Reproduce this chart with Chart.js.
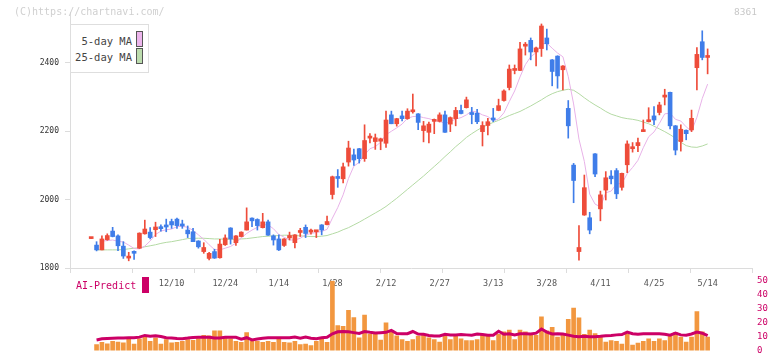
<!DOCTYPE html>
<html>
<head>
<meta charset="utf-8">
<script src="https://cdn.jsdelivr.net/npm/chart.js@4.4.1/dist/chart.umd.min.js"></script>
<style>
  body { margin: 0; background: #fff; width: 772px; height: 361px; overflow: hidden; position: relative;
         font-family: "DejaVu Sans Mono", monospace; }
  canvas { position: absolute; left: 0; }
  #top { top: 0; }
  #bottom { top: 270px; }
  .txt { position: absolute; white-space: nowrap; line-height: 1; }
  .box { position: absolute; }
</style>
</head>
<body>
<canvas id="top" width="772" height="300"></canvas>
<canvas id="bottom" width="772" height="91"></canvas>

<div class="txt" style="left:14px;top:7px;font-size:10px;color:#d0d0d0">(C)https://chartnavi.com/</div>
<div class="txt" style="right:15px;top:7px;font-size:9.5px;color:#c8c8c8">8361</div>

<!-- legend -->
<div class="box" style="left:70px;top:24px;width:77px;height:47px;border:1px solid #dedede;background:#fff"></div>
<div class="txt" style="right:640px;top:36px;font-size:10.5px;color:#444">5-day MA</div>
<div class="box" style="left:136px;top:31px;width:5px;height:14px;border:1px solid #555;background:#ecb5ec"></div>
<div class="txt" style="right:640px;top:52px;font-size:10.5px;color:#444">25-day MA</div>
<div class="box" style="left:136px;top:48px;width:5px;height:14px;border:1px solid #555;background:#bcdcae"></div>

<div class="txt" style="left:76px;top:281px;font-size:10px;color:#cc0066">AI-Predict</div>
<div class="box" style="left:142px;top:277px;width:7px;height:16px;background:#cc0066"></div>

<script>
// ---- data ----
const dateLabels = ["12/10", "12/24", "1/14", "1/28", "2/12", "2/27", "3/13", "3/28", "4/11", "4/25", "5/14"];
const dateIdx = [15, 25, 35, 45, 55, 65, 75, 85, 95, 105, 115];
const priceTicks = [1800, 2000, 2200, 2400];
const aiTicks = [0, 10, 20, 30, 40, 50];

const opens = [
  1886, 1867, 1853, 1883, 1908, 1894, 1864, 1829, 1847, 1858,
  1900, 1905, 1912, 1917, 1926, 1936, 1943, 1928, 1911, 1906,
  1879, 1848, 1828, 1848, 1830, 1868, 1917, 1874, 1892, 1911,
  1946, 1942, 1918, 1935, 1894, 1885, 1866, 1888, 1874, 1904,
  1919, 1905, 1906, 1926, 1927, 2015, 2067, 2061, 2110, 2131,
  2149, 2120, 2180, 2170, 2171, 2165, 2248, 2222, 2245, 2237,
  2257, 2251, 2202, 2197, 2229, 2229, 2248, 2221, 2237, 2261,
  2269, 2251, 2253, 2199, 2217, 2239, 2261, 2290, 2328, 2378,
  2378, 2449, 2466, 2432, 2442, 2473, 2409, 2420, 2380, 2267,
  2101, 1848, 1955, 1947, 2134, 1973, 2028, 2069, 2085, 2036,
  2102, 2149, 2158, 2199, 2228, 2245, 2255, 2300, 2314, 2216,
  2170, 2203, 2204, 2386, 2462, 2416
];
const highs = [
  1888, 1877, 1894, 1900, 1919, 1897, 1877, 1846, 1850, 1903,
  1940, 1918, 1934, 1926, 1943, 1943, 1946, 1940, 1923, 1916,
  1880, 1874, 1846, 1855, 1884, 1897, 1918, 1895, 1906, 1976,
  1947, 1944, 1960, 1940, 1897, 1897, 1886, 1905, 1898, 1916,
  1926, 1914, 1908, 1927, 1952, 2069, 2088, 2107, 2171, 2148,
  2150, 2219, 2193, 2192, 2180, 2259, 2259, 2238, 2259, 2266,
  2309, 2252, 2229, 2227, 2236, 2254, 2259, 2242, 2270, 2277,
  2300, 2270, 2264, 2228, 2238, 2267, 2294, 2321, 2394, 2394,
  2460, 2460, 2473, 2446, 2514, 2499, 2410, 2421, 2392, 2290,
  2106, 1924, 2072, 1963, 2135, 2025, 2082, 2085, 2091, 2078,
  2172, 2167, 2180, 2233, 2269, 2272, 2285, 2323, 2315, 2217,
  2219, 2204, 2262, 2445, 2494, 2441
];
const lows = [
  1886, 1850, 1853, 1881, 1891, 1851, 1828, 1821, 1825, 1857,
  1899, 1885, 1892, 1908, 1906, 1916, 1916, 1916, 1889, 1877,
  1858, 1843, 1824, 1828, 1829, 1866, 1870, 1866, 1891, 1911,
  1921, 1911, 1917, 1895, 1867, 1851, 1863, 1882, 1859, 1892,
  1889, 1899, 1889, 1897, 1926, 2002, 2036, 2049, 2098, 2100,
  2107, 2112, 2166, 2147, 2146, 2153, 2222, 2215, 2230, 2235,
  2253, 2205, 2169, 2166, 2193, 2227, 2197, 2199, 2216, 2251,
  2268, 2222, 2222, 2157, 2189, 2228, 2260, 2288, 2321, 2368,
  2377, 2423, 2409, 2391, 2419, 2438, 2333, 2326, 2321, 2180,
  1991, 1823, 1954, 1900, 2067, 1938, 1999, 2046, 2003, 2028,
  2079, 2139, 2140, 2199, 2227, 2219, 2248, 2277, 2207, 2131,
  2142, 2175, 2199, 2321, 2409, 2368
];
const closes = [
  1888, 1853, 1885, 1895, 1892, 1865, 1835, 1831, 1843, 1902,
  1914, 1889, 1920, 1915, 1920, 1926, 1924, 1923, 1900, 1877,
  1862, 1860, 1843, 1829, 1870, 1888, 1885, 1894, 1905, 1935,
  1938, 1924, 1935, 1896, 1882, 1853, 1885, 1895, 1897, 1907,
  1901, 1907, 1908, 1911, 1936, 2067, 2062, 2096, 2151, 2116,
  2120, 2173, 2186, 2181, 2178, 2233, 2222, 2237, 2237, 2259,
  2262, 2226, 2216, 2221, 2234, 2248, 2197, 2240, 2261, 2252,
  2292, 2249, 2228, 2217, 2228, 2233, 2275, 2318, 2382, 2381,
  2441, 2452, 2432, 2444, 2508, 2456, 2375, 2362, 2391, 2216,
  2056, 1860, 2035, 1911, 2075, 2014, 2064, 2061, 2017, 2077,
  2163, 2151, 2167, 2204, 2233, 2233, 2277, 2306, 2216, 2145,
  2206, 2193, 2238, 2425, 2416, 2420
];
const ma5 = [
  null, null, 1879, 1880, 1882, 1878, 1876, 1867, 1857, 1856,
  1864, 1879, 1898, 1908, 1912, 1914, 1921, 1922, 1919, 1910,
  1897, 1884, 1868, 1854, 1853, 1858, 1863, 1873, 1888, 1901,
  1911, 1919, 1927, 1926, 1915, 1898, 1890, 1882, 1882, 1887,
  1897, 1901, 1904, 1907, 1913, 1946, 1977, 2014, 2062, 2098,
  2109, 2131, 2149, 2155, 2168, 2190, 2200, 2210, 2221, 2238,
  2243, 2244, 2240, 2237, 2232, 2229, 2223, 2228, 2236, 2240,
  2248, 2259, 2256, 2248, 2243, 2231, 2236, 2254, 2287, 2318,
  2359, 2395, 2418, 2430, 2455, 2458, 2443, 2429, 2418, 2360,
  2280, 2177, 2112, 2016, 1987, 1979, 2020, 2025, 2046, 2047,
  2076, 2094, 2115, 2152, 2184, 2198, 2223, 2251, 2253, 2235,
  2230, 2213, 2200, 2241, 2296, 2338
];
const ma25 = [
  null, 1853, 1853, 1853, 1853, 1853, 1854, 1856, 1858, 1859,
  1862, 1865, 1868, 1872, 1875, 1877, 1880, 1883, 1886, 1887,
  1887, 1887, 1886, 1885, 1885, 1884, 1884, 1884, 1885, 1886,
  1888, 1890, 1892, 1893, 1894, 1895, 1896, 1896, 1895, 1894,
  1893, 1892, 1892, 1893, 1895, 1900, 1905, 1912, 1918, 1926,
  1934, 1943, 1952, 1961, 1970, 1980, 1992, 2004, 2017, 2030,
  2043, 2056, 2069, 2083, 2097, 2111, 2126, 2140, 2155, 2168,
  2182, 2193, 2203, 2212, 2219, 2226, 2232, 2239, 2246, 2252,
  2258, 2266, 2274, 2283, 2292, 2302, 2310, 2316, 2320, 2323,
  2320, 2310, 2298, 2287, 2277, 2268, 2258, 2250, 2245, 2240,
  2237, 2235, 2232, 2227, 2222, 2215, 2207, 2199, 2190, 2180,
  2168, 2158, 2154, 2153, 2157, 2163
];
const volume = [
  null, 4.3, 5.9, 4.9, 6.6, 6.1, 5.5, 8.4, 4.7, 8.4,
  9.5, 6.6, 9.1, 4.7, 7.8, 5.5, 5.9, 6.6, 7.8, 7.4,
  8.6, 10.9, 10.5, 14.1, 14.1, 9.1, 8.4, 6.6, 5.9, 12.8,
  6.6, 6.6, 5.9, 6.6, 5.9, 8.4, 5.9, 5.5, 6.6, 4.3,
  4.7, 3.6, 6.6, 8.4, 5.9, 49.5, 17.8, 17.2, 28.6, 23.6,
  9.1, 25.3, 11.6, 11.6, 7.5, 19.7, 13.2, 10.5, 7.8, 6.6,
  7.8, 10.3, 10.9, 9.1, 7.8, 6.0, 10.9, 7.8, 10.3, 8.4,
  7.2, 7.2, 7.8, 11.6, 10.9, 7.2, 11.6, 13.4, 14.7, 7.8,
  14.7, 13.4, 10.9, 10.9, 24.1, 14.0, 16.6, 9.7, 10.9, 22.2,
  30.3, 23.4, 11.6, 14.7, 12.2, 9.7, 6.0, 7.2, 6.6, 4.7,
  12.2, 4.0, 5.3, 6.6, 8.4, 6.6, 8.4, 7.2, 11.6, 12.8,
  9.7, 6.0, 9.7, 27.8, 13.4, 9.7
];
const aiPredict = [
  null, 7.6, 8.4, 8.6, 8.8, 8.9, 9.0, 9.1, 9.1, 9.6,
  10.8, 10.3, 10.6, 10.0, 9.2, 9.0, 8.6, 8.5, 8.9, 9.4,
  9.5, 9.5, 9.5, 9.0, 9.0, 9.5, 9.5, 9.5, 8.2, 9.2,
  7.6, 8.2, 8.8, 9.2, 9.2, 9.2, 9.2, 9.2, 9.6, 8.9,
  9.6, 8.8, 8.4, 9.1, 9.5, 12.0, 13.4, 13.6, 13.4, 12.8,
  12.2, 13.6, 13.0, 12.6, 12.8, 13.0, 14.4, 12.2, 12.0, 12.0,
  13.6, 11.8, 11.6, 10.8, 10.4, 10.4, 11.6, 11.2, 11.2, 11.4,
  11.2, 11.0, 11.8, 11.4, 11.0, 11.0, 13.8, 11.6, 12.0, 11.2,
  12.0, 12.0, 11.8, 12.4, 15.4, 13.2, 11.8, 12.0, 11.8, 11.0,
  10.2, 9.8, 10.2, 9.9, 9.9, 10.2, 10.6, 10.8, 11.2, 11.4,
  13.2, 12.0, 11.6, 12.0, 12.0, 12.0, 12.0, 11.6, 11.0, 12.4,
  11.2, 11.0, 11.8, 13.2, 12.4, 10.6
];

// ---- look ----
const UP = "#ee4c3a";
const DOWN = "#3f7de9";
const AXIS = "#dcdcdc";
const X_MIN = -3.955;    // left edge of plot in candle units
const X_MAX = 123.28;    // right edge
const X_DIVS = 11;

Chart.defaults.font.family = "'DejaVu Sans Mono', monospace";
Chart.defaults.animation = false;

const candleColors = opens.map((o, i) => closes[i] >= o ? UP : DOWN);
const pts = arr => arr.map((v, i) => ({ x: i, y: v }));

// price panel
new Chart(document.getElementById("top"), {
  type: "bar",
  data: {
    datasets: [
      { type: "line", data: pts(ma25), borderColor: "#b4daa4", borderWidth: 1, pointRadius: 0, order: 3 },
      { type: "line", data: pts(ma5), borderColor: "#e8b2e8", borderWidth: 1, pointRadius: 0, order: 2 },
      { data: lows.map((l, i) => ({ x: i, y: [l, highs[i]] })), backgroundColor: candleColors,
        barThickness: 1, grouped: false, order: 1 },
      { data: opens.map((o, i) => ({ x: i, y: [o, closes[i]] })), backgroundColor: candleColors,
        barThickness: 4, minBarLength: 2, grouped: false, order: 0 }
    ]
  },
  options: {
    responsive: false,
    layout: { padding: { top: 12, right: 20, left: 0, bottom: 0 } },
    plugins: { legend: { display: false }, tooltip: { enabled: false } },
    scales: {
      xg: {
        type: "linear", position: "bottom", weight: 0, min: X_MIN, max: X_MAX, offset: false,
        afterBuildTicks: s => { s.ticks = Array.from({ length: X_DIVS + 1 }, (_, k) => ({ value: X_MIN + k * (X_MAX - X_MIN) / X_DIVS })); },
        afterFit: s => { s.height = 8; },
        grid: { drawOnChartArea: false, tickLength: 5, color: AXIS, offset: false },
        border: { color: AXIS },
        ticks: { display: false }
      },
      x: {
        type: "linear", position: "bottom", weight: 1, min: X_MIN, max: X_MAX, offset: false,
        afterBuildTicks: s => { s.ticks = dateIdx.map(v => ({ value: v })); },
        afterFit: s => { s.height = 24; },
        grid: { display: false, drawTicks: false, offset: false },
        border: { display: false },
        ticks: {
          autoSkip: false, maxRotation: 0, padding: 3, color: "#555", font: { size: 8.5 },
          callback: v => dateLabels[dateIdx.indexOf(v)]
        }
      },
      y: {
        position: "left", min: 1800, max: 2549, beginAtZero: false,
        afterBuildTicks: s => { s.ticks = priceTicks.map(v => ({ value: v })); },
        afterFit: s => { s.width = 70; },
        grid: { drawOnChartArea: false, tickLength: 5, color: AXIS },
        border: { color: AXIS },
        ticks: { padding: 6, color: "#333", font: { size: 8 }, callback: v => String(v) }
      }
    }
  }
});

// AI-Predict panel
new Chart(document.getElementById("bottom"), {
  type: "bar",
  data: {
    datasets: [
      { type: "line", data: pts(aiPredict), borderColor: "#cc0066", borderWidth: 3, pointRadius: 0, order: 0 },
      { data: pts(volume), backgroundColor: "#f2973f", barThickness: 4, grouped: false, order: 1 }
    ]
  },
  options: {
    responsive: false,
    layout: { padding: { top: 7.7, right: 0, left: 70, bottom: 2.5 } },
    plugins: { legend: { display: false }, tooltip: { enabled: false } },
    scales: {
      x: { type: "linear", display: false, min: X_MIN, max: X_MAX, offset: false },
      y: {
        position: "right", min: 0, max: 50,
        afterBuildTicks: s => { s.ticks = aiTicks.map(v => ({ value: v })); },
        afterFit: s => { s.width = 20; },
        grid: { display: false, drawTicks: false },
        border: { display: false },
        ticks: { padding: 5, color: "#cc0066", font: { size: 9 }, callback: v => String(v) }
      }
    }
  }
});
</script>
</body>
</html>
